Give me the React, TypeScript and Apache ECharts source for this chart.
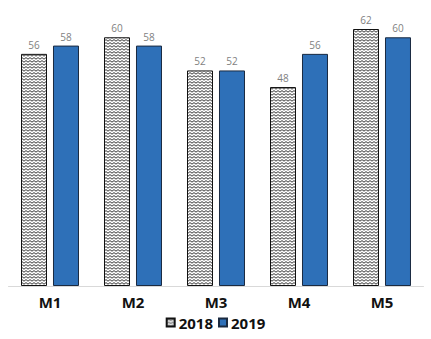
import React, { useEffect, useRef } from "react";
import * as echarts from "echarts";

const categories = ["M1", "M2", "M3", "M4", "M5"];
const values2018 = [56, 60, 52, 48, 62];
const values2019 = [58, 58, 52, 56, 60];
const seriesNames = ["2018", "2019"];

const zigzagSvg =
  '<svg xmlns="http://www.w3.org/2000/svg" width="4" height="3"><rect width="4" height="3" fill="white"/><polyline points="0,2.2 2,0.6 4,2.2" fill="none" stroke="black" stroke-width="0.8"/></svg>';
const zigzagUrl = "data:image/svg+xml;charset=utf-8," + encodeURIComponent(zigzagSvg);

export default function App() {
  const ref = useRef<HTMLDivElement>(null);
  useEffect(() => {
    if (!ref.current) return;
    const chart = echarts.init(ref.current, null, { renderer: "svg" });
    const hatch: any = {
      image: zigzagUrl,
      repeat: "repeat",
      imageWidth: 4,
      imageHeight: 3,
    };
    const labelStyle = { show: true, position: "top", distance: 4, fontSize: 10, color: "#7f7f7f", fontFamily: "Open Sans" };
    chart.setOption({
      animation: false,
      backgroundColor: "#ffffff",
      textStyle: { fontFamily: "Open Sans" },
      grid: { left: 8.5, right: 7.5, top: 29, bottom: 53, containLabel: false },
      legend: {
        bottom: 4,
        left: "center",
        itemWidth: 8,
        itemHeight: 8,
        itemGap: 5,
        icon: "rect",
        textStyle: { fontSize: 15, fontWeight: "bold", color: "#111", fontFamily: "Open Sans", padding: [0, 0, 0, -1] },
        data: seriesNames,
      },
      xAxis: {
        type: "category",
        data: categories,
        axisLine: { lineStyle: { color: "#d9d9d9", width: 1 } },
        axisTick: { show: false },
        axisLabel: { fontSize: 15, fontWeight: "bold", color: "#111", margin: 8, fontFamily: "Open Sans" },
      },
      yAxis: {
        type: "value",
        min: 0,
        max: 62,
        show: false,
        splitLine: { show: false },
      },
      series: [
        {
          name: seriesNames[0],
          type: "bar",
          data: values2018,
          barWidth: 26,
          barGap: "23%",
          itemStyle: { color: hatch, borderColor: "#111", borderWidth: 1 },
          label: labelStyle,
        },
        {
          name: seriesNames[1],
          type: "bar",
          data: values2019,
          barWidth: 26,
          itemStyle: { color: "#2e70b8", borderColor: "#1a2a40", borderWidth: 1 },
          label: labelStyle,
        },
      ],
    });
    return () => chart.dispose();
  }, []);
  return <div ref={ref} style={{ width: 431, height: 339, position: "absolute", left: 0, top: 0 }} />;
}
